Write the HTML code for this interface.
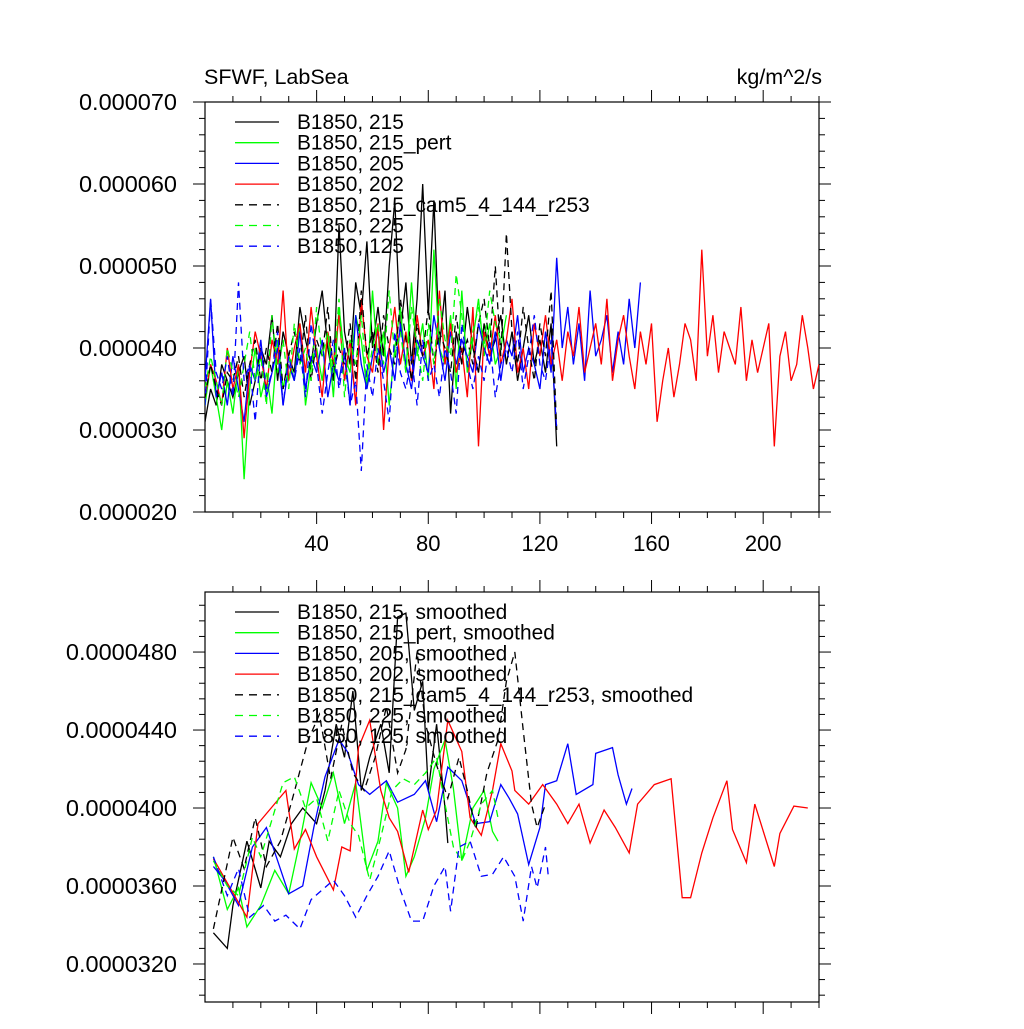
<!DOCTYPE html>
<html><head><meta charset="utf-8"><style>
body{margin:0;background:#fff;}
svg text{font-family:"Liberation Sans",sans-serif;fill:#000;}
</style></head><body>
<svg id="c" width="1024" height="1024" xmlns="http://www.w3.org/2000/svg"></svg>
<script>
// ---- top panel data (units 1e-6 kg/m^2/s), sampled every 2 years ----
const rawBlack=[31,35,33,38,36,34,37,39,33,36,40,38,44,36,42,39,37,45,41,38,43,47,40,36,55,42,38,48,44,53,40,45,39,50,58,42,48,38,46,60,44,58,40,47,32,42,38,45,40,37,43,39,41,44,38,42,36,40,44,38,41,37,43,28];
const rawGreen=[33,38,34,30,36,32,38,24,35,40,34,37,32,41,35,39,36,43,33,38,40,36,42,34,45,39,37,44,41,35,47,38,42,33,40,45,37,48,39,43,36,52,40,38,44,35,47,37,41,46,39,43,38,40,44];
const rawBlue=[36,46,34,37,33,39,35,31,38,36,41,34,37,40,33,38,36,42,35,39,37,41,34,38,36,40,33,44,38,35,39,42,37,40,36,43,38,35,41,39,37,44,40,36,42,38,41,39,37,43,40,38,42,36,41,39,44,37,40,38,35,42,37,51,40,45,38,43,36,47,39,41,44,37,42,38,46,40,48];
const rawRed=[34,38,36,33,40,35,38,29,37,42,39,35,41,38,47,36,40,43,37,45,39,34,42,38,44,36,41,33,46,39,37,43,30,40,45,38,42,36,44,39,41,35,47,38,43,37,40,34,45,28,42,39,44,38,41,46,37,40,35,43,39,44,38,41,36,42,39,45,37,40,43,38,46,36,41,44,39,35,42,38,43,31,36,40,34,38,43,41,36,52,39,44,37,42,40,38,45,36,41,37,40,43,28,39,42,36,38,44,40,35,38];
const rawBlackD=[34,38,35,33,37,36,39,34,38,41,36,40,37,43,35,39,42,38,44,36,41,39,45,37,40,38,43,36,47,39,42,37,44,40,38,46,41,36,43,39,45,38,42,40,37,44,39,41,38,43,46,40,50,39,54,42,38,45,40,36,43,39,47,30];
const rawGreenD=[35,39,36,33,40,37,34,38,42,36,39,33,44,37,41,35,43,38,40,36,45,39,42,37,46,34,41,38,44,36,40,43,38,47,39,42,37,45,40,36,43,38,46,41,39,49,44,38,42,45,40,47,43,41];
const rawBlueD=[33,46,37,35,39,34,48,36,38,31,40,35,37,42,33,39,36,40,34,43,38,32,37,41,35,39,33,36,25,38,34,40,36,31,42,37,35,39,33,41,36,38,34,40,37,32,43,38,35,39,36,41,34,38,40,37,42,35,39,44,38,36,41,30];
// ---- bottom panel (smoothed): years and values ----
const smBlackYrs=[3,8,10,15,20,23,27,31,35,40,43,47,50,53,56,59,63,66,69,72,75,78,80,83,86,87];
const smBlack=[33.6,32.8,35.0,38.3,35.9,38.3,37.5,39.2,40.0,39.2,40.9,44.3,42.6,46.0,40.9,42.6,44.3,41.8,49.8,50.0,45.0,46.5,40.9,44.3,40.0,38.2];
const smGreenYrs=[3,8,12,15,20,25,30,34,38,42,46,50,54,58,62,65,69,72,75,79,82,86,89,92,96,100,103,105];
const smGreen=[37.5,34.8,35.9,33.9,35.0,36.8,35.6,38.3,41.3,40.0,41.8,39.2,41.3,36.8,38.3,41.3,40.0,36.5,37.5,39.5,42.0,43.5,41.0,37.3,40.0,40.9,38.8,38.3];
const smBlueYrs=[3,7,12,17,22,26,30,35,39,43,48,51,55,59,65,69,75,79,83,87,92,97,102,106,109,112,116,120,122,126,130,133,139,140,146,148,151,153];
const smBlue=[37.0,36.3,35.0,38.0,39.0,37.3,35.6,36.0,39.0,41.6,43.5,42.9,41.2,40.7,41.4,40.3,40.7,41.4,39.3,42.1,41.4,39.2,39.3,41.2,40.5,39.7,37.1,39.0,41.2,41.4,43.3,40.7,41.2,42.8,43.1,41.7,40.2,41.0];
const smRedYrs=[3,15,19,29,32,36,40,46,49,52,55,59,63,66,69,73,78,80,83,87,92,95,99,103,106,110,111,116,121,126,130,134,138,143,147,152,155,161,167,171,174,178,182,187,189,194,197,204,206,211,216];
const smRed=[37.4,34.4,39.2,40.9,37.9,38.9,37.5,35.8,38.0,37.8,43.1,44.5,40.9,39.5,38.8,36.7,39.9,38.9,39.9,44.5,42.9,39.5,38.6,40.9,43.3,41.9,40.9,40.2,41.2,40.2,39.2,40.2,38.2,39.9,39.0,37.7,40.2,41.2,41.5,35.4,35.4,37.7,39.5,41.4,38.9,37.2,40.2,37.0,38.7,40.1,40.0];
const smBlackDYrs=[3,6,10,14,18,22,27,31,37,41,45,49,53,57,61,65,69,72,76,79,83,87,91,94,97,101,105,108,111,114,117,119,122];
const smBlackD=[33.8,35.8,38.5,36.9,39.5,37.0,38.3,40.3,43.5,44.8,41.5,44.3,41.8,40.9,42.6,45.2,41.8,43.0,48.0,44.3,42.2,40.5,42.6,40.9,38.9,41.8,43.5,46.5,48.0,44.0,40.2,39.0,40.2];
const smGreenDYrs=[3,8,12,17,20,28,32,36,40,44,48,52,55,59,63,67,71,75,79,83,86,89,92,95,99,103,105];
const smGreenD=[37.3,36.0,35.5,38.5,37.5,41.3,41.6,40.0,40.5,38.3,40.9,39.2,38.6,36.3,38.5,40.9,41.5,41.2,41.8,42.6,40.2,38.0,37.3,38.3,40.2,40.9,39.5];
const smBlueDYrs=[3,8,12,16,21,25,29,34,38,42,46,50,54,58,62,66,70,74,78,82,86,88,91,95,99,103,107,111,114,117,119,122,123];
const smBlueD=[37.5,35.5,36.9,34.4,35.0,34.2,34.5,33.8,35.3,35.8,36.3,35.5,34.4,35.5,36.5,37.8,35.8,34.2,34.2,36.0,37.0,34.7,38.0,38.3,36.5,36.6,37.5,36.5,34.2,37.0,35.9,38.0,36.5];
const topTicks=["0.000020","0.000030","0.000040","0.000050","0.000060","0.000070"];
const topTickVals=[20,30,40,50,60,70];
const botTicks=["0.0000320","0.0000360","0.0000400","0.0000440","0.0000480"];
const botTickVals=[32,36,40,44,48];
const xTickVals=[40,80,120,160,200];
const topLegend=["B1850, 215","B1850, 215_pert","B1850, 205","B1850, 202","B1850, 215_cam5_4_144_r253","B1850, 225","B1850, 125"];
const botLegend=["B1850, 215, smoothed","B1850, 215_pert, smoothed","B1850, 205, smoothed","B1850, 202, smoothed","B1850, 215_cam5_4_144_r253, smoothed","B1850, 225, smoothed","B1850, 125, smoothed"];
const colors=["#000","#0f0","#00f","#f00","#000","#0f0","#00f"];
const dashed=[false,false,false,false,true,true,true];

const svg=document.getElementById('c');
const NS="http://www.w3.org/2000/svg";
function mk(t,a,p){const e=document.createElementNS(NS,t);for(const k in a)e.setAttribute(k,a[k]);(p||svg).appendChild(e);return e;}
const L=205,R=819;
const xs=v=>L+(v)*(R-L)/220;
const every2=arr=>arr.map((v,j)=>j*2);

function panel(name,top,bot,ymin,ymax,tickVals,tickLbls,minorStep,series,years,legend,legY,showX){
  const g=mk('g',{});
  
  
  const ys=v=>bot-(v-ymin)*(bot-top)/(ymax-ymin);
  const frame=mk('rect',{x:L,y:top,width:R-L,height:bot-top,fill:'none',stroke:'#000','stroke-width':1.2},g);
  
  
  for(let v=10;v<=220;v+=10){
    const maj=v%40===0, len=maj?12:6, x=xs(v);
    mk('line',{x1:x,x2:x,y1:top,y2:top-len,stroke:'#000'},g);
    mk('line',{x1:x,x2:x,y1:bot,y2:bot+len,stroke:'#000'},g);
  }
  if(showX) xTickVals.forEach(v=>{const t=mk('text',{x:xs(v),y:bot+39,'font-size':22,'text-anchor':'middle'},g);t.textContent=v;
    });
  for(let v=Math.ceil(ymin/minorStep)*minorStep;v<=ymax+1e-9;v+=minorStep){
    const maj=tickVals.some(t=>Math.abs(t-v)<1e-6), len=maj?12:6, y=ys(v);
    mk('line',{x1:L,x2:L-len,y1:y,y2:y,stroke:'#000'},g);
    mk('line',{x1:R,x2:R+len,y1:y,y2:y,stroke:'#000'},g);
  }
  tickVals.forEach((v,i)=>{const t=mk('text',{x:177,y:ys(v)+8,'font-size':23.5,'text-anchor':'end'},g);t.textContent=tickLbls[i];
    });
  const cp=mk('clipPath',{id:name+'-clip'},g);mk('rect',{x:L,y:top,width:R-L,height:bot-top},cp);
  const sg=mk('g',{'clip-path':'url(#'+name+'-clip)'},g);
  series.forEach((arr,i)=>{
    const yr=years[i];
    const d=arr.map((v,j)=>(j?'L':'M')+xs(yr[j]).toFixed(1)+','+ys(v).toFixed(1)).join('');
    const p=mk('path',{d:d,fill:'none',stroke:colors[i],'stroke-width':1.3,'stroke-dasharray':dashed[i]?'7,5':'none'},sg);
    
    
  });
  legend.forEach((s,i)=>{
    const y=legY+i*20.7;
    const ln=mk('line',{x1:235,x2:279,y1:y,y2:y,stroke:colors[i],'stroke-width':1.3,'stroke-dasharray':dashed[i]?'8,6':'none'},g);
    
    const t=mk('text',{x:297,y:y+7,'font-size':20.9},g);t.textContent=s;
    
  });
}
const topSeries=[rawBlack,rawGreen,rawBlue,rawRed,rawBlackD,rawGreenD,rawBlueD];
panel('top-panel',102,512,20,70,topTickVals,topTicks,2,topSeries,topSeries.map(every2),topLegend,122,true);
panel('bottom-panel',592,1002,30.05,51.08,botTickVals,botTicks,0.8,
  [smBlack,smGreen,smBlue,smRed,smBlackD,smGreenD,smBlueD],
  [smBlackYrs,smGreenYrs,smBlueYrs,smRedYrs,smBlackDYrs,smGreenDYrs,smBlueDYrs],botLegend,612,false);
const t1=mk('text',{x:204,y:84,'font-size':21.5});t1.textContent="SFWF, LabSea";

const t2=mk('text',{x:822,y:84,'font-size':21.5,'text-anchor':'end'});t2.textContent="kg/m^2/s";

</script>
</body></html>
